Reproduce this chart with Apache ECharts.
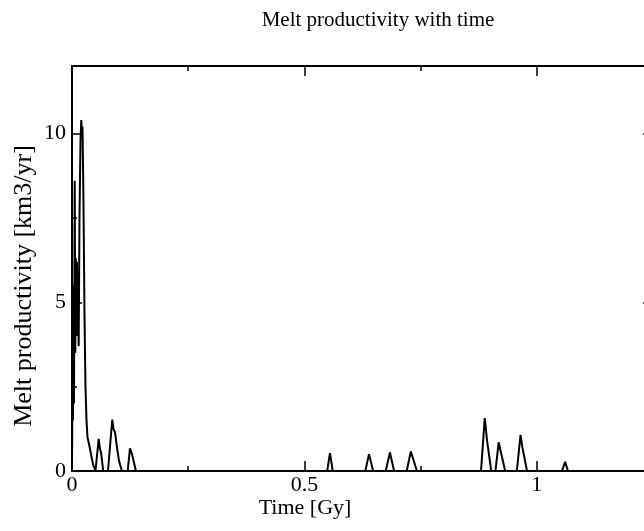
<!DOCTYPE html>
<html>
<head>
<meta charset="utf-8">
<script src="https://cdn.jsdelivr.net/npm/echarts@6/dist/echarts.min.js"></script>
<style>
html,body{margin:0;padding:0;background:#fff;overflow:hidden;}
#chart{width:720px;height:531px;}
</style>
</head>
<body>
<div id="chart"></div>
<script>
const timeGy = [0,0.0011,0.0022,0.0032,0.0043,0.0058,0.0071,0.0082,0.0097,0.0108,0.0118,0.0129,0.0144,0.0161,0.0183,0.0200,0.0215,0.0226,0.0247,0.0269,0.0290,0.0312,0.0333,0.0366,0.0409,0.0452,0.0505,
  0.0527,0.0574,0.0602,0.0624,0.0673,
  0.0774,0.0828,0.0867,0.0892,0.0925,0.0968,0.1011,0.1075,
  0.1198,0.1247,0.129,0.1333,0.1376,
  0.549,0.555,0.561,
  0.631,0.639,0.648,
  0.675,0.684,0.693,
  0.72,0.729,0.733,0.742,
  0.880,0.888,0.893,0.902,
  0.911,0.918,0.922,0.932,
  0.957,0.965,0.969,0.979,
  1.054,1.061,1.067,
  1.25];
const melt = [0,3,1.5,5.5,2,8.6,3.5,6.3,4,6.2,4.2,5.5,3.7,7.5,9.8,10.4,9.9,10.2,8,4.6,2.5,1.5,1.0,0.8,0.5,0.2,0,
  0,0.95,0.65,0.55,0,
  0,0.9,1.52,1.25,1.15,0.7,0.3,0,
  0,0.67,0.5,0.25,0,
  0,0.53,0,
  0,0.5,0,
  0,0.55,0,
  0,0.58,0.4,0,
  0,1.57,0.9,0,
  0,0.85,0.6,0,
  0,1.07,0.7,0,
  0,0.27,0,
  0];
const xTickLabels = ['0','0.5','1'];
const yTickLabels = ['0','5','10'];
const titleText = 'Melt productivity with time';
const xTitle = 'Time [Gy]';
const yTitle = 'Melt productivity [km3/yr]';

const FONT = 'Liberation Serif';
const seriesData = timeGy.map((t,i)=>[t, melt[i]]);

function xAx(pos, interval, len, showLine, showLabel){
  return {type:'value', position:pos, min:0, max:1.25, interval:interval,
    axisLine:{show:showLine, onZero:false, lineStyle:{color:'#000', width:2}},
    axisTick:{show:true, inside:true, length:len, lineStyle:{color:'#000', width:1.5}},
    axisLabel:{show:showLabel, color:'#000', fontFamily:FONT, fontSize:22, margin:3,
      formatter:v=>{const s=String(v); return xTickLabels.includes(s)?s:'';}},
    splitLine:{show:false}};
}
function yAx(pos, interval, len, showLine, showLabel){
  return {type:'value', position:pos, min:0, max:12, interval:interval,
    axisLine:{show:showLine, onZero:false, lineStyle:{color:'#000', width:2}},
    axisTick:{show:true, inside:true, length:len, lineStyle:{color:'#000', width:1.5}},
    axisLabel:{show:showLabel, color:'#000', fontFamily:FONT, fontSize:22, margin:6,
      formatter:v=>{const s=String(v); return yTickLabels.includes(s)?s:'';}},
    splitLine:{show:false}};
}

const chart = echarts.init(document.getElementById('chart'), null, {renderer:'canvas'});
chart.setOption({
  animation:false,
  backgroundColor:'#fff',
  grid:{left:72, top:66, width:581, height:405, containLabel:false},
  xAxis:[xAx('bottom',0.5,10,true,true), xAx('bottom',0.25,5,false,false),
         xAx('top',0.5,10,true,false), xAx('top',0.25,5,false,false)],
  yAxis:[yAx('left',5,10,true,true), yAx('left',2.5,5,false,false),
         yAx('right',5,10,true,false), yAx('right',2.5,5,false,false)],
  series:[{type:'line', xAxisIndex:0, yAxisIndex:0, data:seriesData, showSymbol:false,
    lineStyle:{color:'#000', width:2}, clip:true}],
  graphic:[
    {type:'text', x:378, y:20, style:{text:titleText, fontFamily:FONT, fontSize:21, fill:'#000', textAlign:'center', textVerticalAlign:'middle'}},
    {type:'text', x:305, y:508, style:{text:xTitle, fontFamily:FONT, fontSize:22, fill:'#000', textAlign:'center', textVerticalAlign:'middle'}},
    {type:'text', x:24, y:286, rotation:Math.PI/2, style:{text:yTitle, fontFamily:FONT, fontSize:26, fill:'#000', textAlign:'center', textVerticalAlign:'middle'}}
  ]
});
</script>
</body>
</html>
